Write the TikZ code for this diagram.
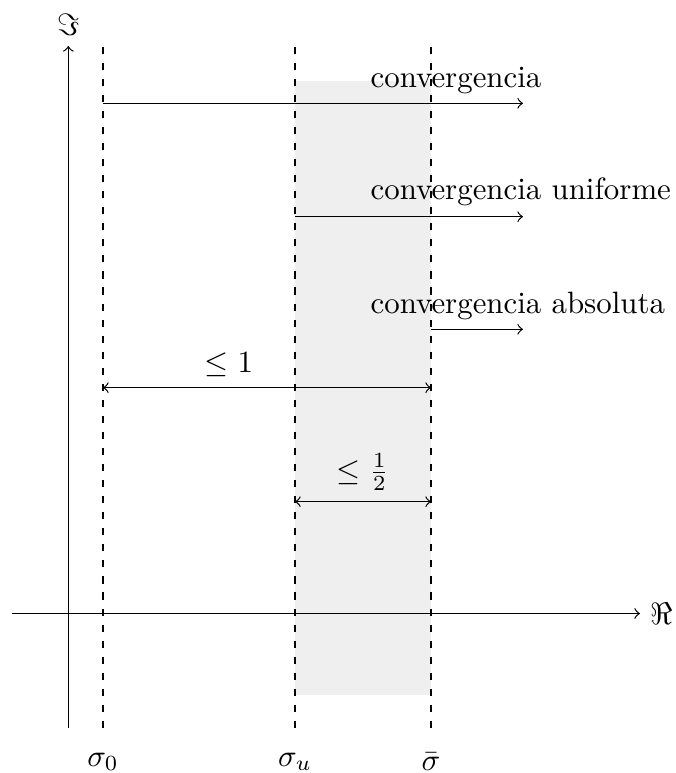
\documentclass[tikz,border=0pt]{standalone}
\begin{document}
\definecolor{stripgray}{RGB}{239,239,239}
\begin{tikzpicture}[x=0.32394pt,y=-0.32394pt,
  guide/.style={line width=0.35pt, dash pattern=on 2.3pt off 2.9pt},
  ray/.style={->},
  span/.style={<->},
  caption/.style={anchor=base west, inner sep=0pt}]
\useasboundingbox (0,0) rectangle (675,773);

% shaded strip between sigma_u and bar sigma
\fill[stripgray] (295,80.7) rectangle (431,695);

% axes
\coordinate (xL) at (11.7,613.5);
\coordinate (xR) at (640,613.5);
\coordinate (yB) at (68.3,728);
\coordinate (yT) at (68.3,46);
\draw[->] (xL) -- (xR);
\draw[->] (yB) -- (yT);
\node[right] (re) at (xR) {$\Re$};
\node[above] (im) at (yT) {$\Im$};

% vertical guides
\coordinate (g0b) at (103,728);  \coordinate (g0t) at (103,40);
\coordinate (gub) at (295,728);  \coordinate (gut) at (295,40);
\coordinate (gbb) at (431,728);  \coordinate (gbt) at (431,40);
\draw[guide] (g0b) -- (g0t);
\draw[guide] (gub) -- (gut);
\draw[guide] (gbb) -- (gbt);
\node[below] (s0) at (103,742) {$\sigma_0$};
\node[below] (su) at (295,742) {$\sigma_u$};
\node[below] (sb) at (431,742) {$\bar\sigma$};

% half-planes of convergence
\coordinate (c1s) at (103,103.3); \coordinate (c1e) at (523,103.3);
\coordinate (c2s) at (295,216.7); \coordinate (c2e) at (523,216.7);
\coordinate (c3s) at (431,329.3); \coordinate (c3e) at (523,329.3);
\draw[ray] (c1s) -- (c1e);
\draw[ray] (c2s) -- (c2e);
\draw[ray] (c3s) -- (c3e);
\node[caption] (t1) at (370,88) {convergencia};
\node[caption] (t2) at (370,200) {convergencia uniforme};
\node[caption] (t3) at (370,314) {convergencia absoluta};

% widths of the gaps
\coordinate (w1s) at (103,387.7); \coordinate (w1e) at (431,387.7);
\coordinate (w2s) at (295,501.7); \coordinate (w2e) at (431,501.7);
\draw[span] (w1s) -- (w1e);
\draw[span] (w2s) -- (w2e);
\node[above] (l1) at (229,387.7) {$\leq 1$};
\node[above] (l2) at (363,501.7) {$\leq \frac{1}{2}$};
\end{tikzpicture}
\end{document}
